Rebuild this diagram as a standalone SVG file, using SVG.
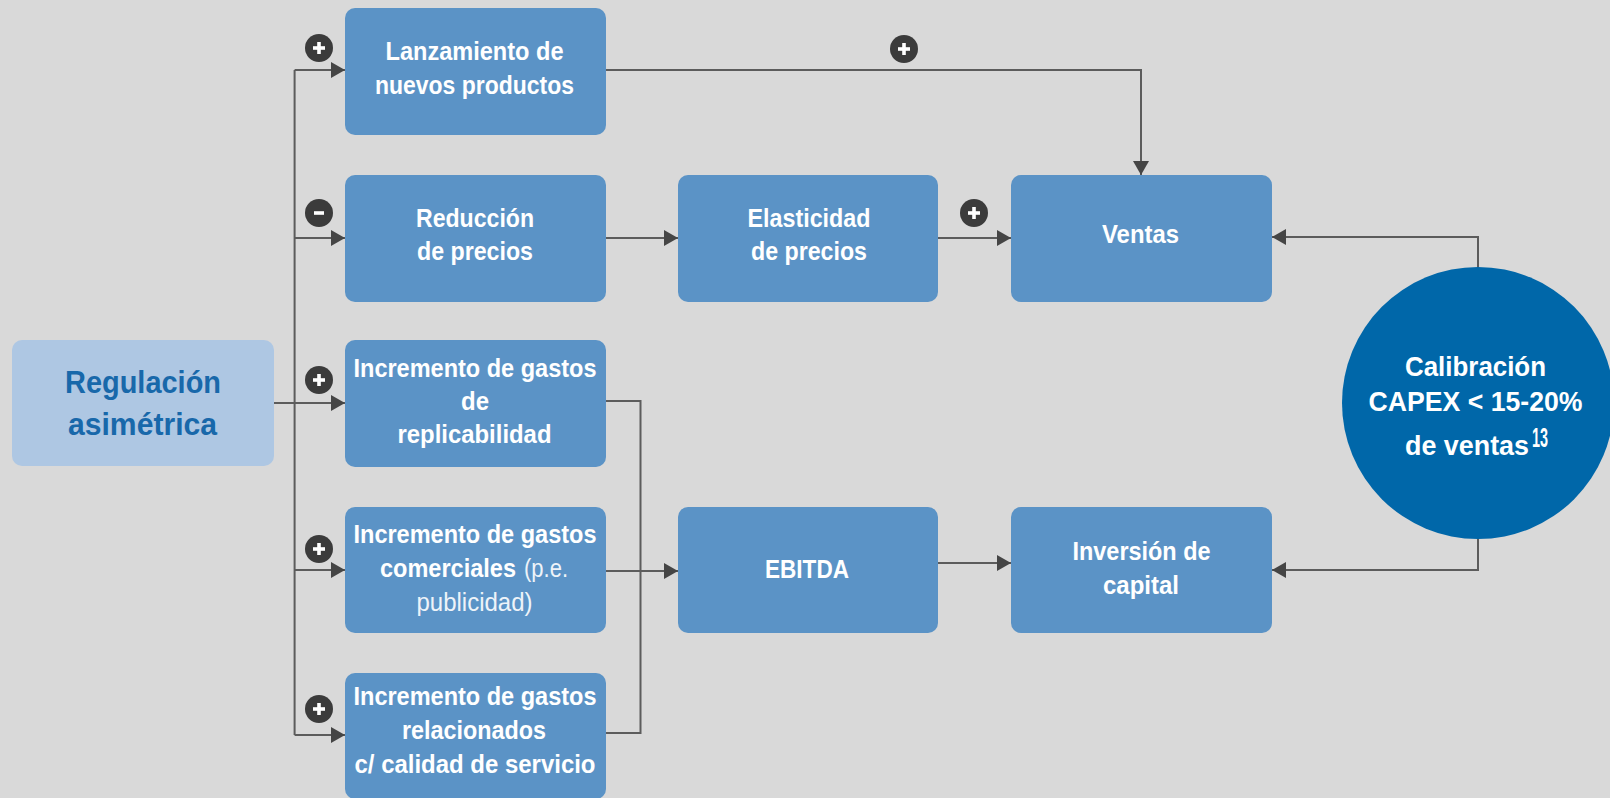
<svg xmlns="http://www.w3.org/2000/svg" xmlns:xlink="http://www.w3.org/1999/xlink" width="1610" height="798" viewBox="0 0 1610 798">
<style>
.box{fill:#5b93c6}
.t{font-family:"Liberation Sans",Arial,sans-serif;font-weight:bold;font-size:25px;fill:#ffffff;text-anchor:middle}
.r{font-weight:normal;fill:#eef3f9}
.reg{font-family:"Liberation Sans",Arial,sans-serif;font-weight:bold;font-size:32px;fill:#1868aa;text-anchor:middle}
.ct{font-family:"Liberation Sans",Arial,sans-serif;font-weight:bold;font-size:28px;fill:#ffffff;text-anchor:middle}
.s{text-anchor:start}
.ln{fill:none;stroke:#5c5c5c;stroke-width:2}
.arr{marker-end:url(#arr)}
</style>
<defs>
<marker id="arr" viewBox="0 0 14 16" refX="14" refY="8" markerWidth="14" markerHeight="16" markerUnits="userSpaceOnUse" orient="auto">
<path d="M0,0 L14,8 L0,16 z" fill="#454545"/>
</marker>
<g id="plus"><circle r="14" fill="#3b3b3b"/><rect x="-6" y="-1.8" width="12" height="3.6" fill="#fff"/><rect x="-1.8" y="-6" width="3.6" height="12" fill="#fff"/></g>
<g id="minus"><circle r="14" fill="#3b3b3b"/><rect x="-5" y="-1.8" width="10" height="3.6" fill="#fff"/></g>
</defs>
<rect width="1610" height="798" fill="#d9d9d9"/>

<g id="connectors">
<path class="ln" d="M294.6,70 V735"/>
<path class="ln arr" d="M294.6,70 H345"/>
<path class="ln arr" d="M294.6,238 H345"/>
<path class="ln arr" d="M273,403 H345"/>
<path class="ln arr" d="M294.6,570 H345"/>
<path class="ln arr" d="M294.6,735 H345"/>
<path class="ln arr" d="M606,70 H1141 V175"/>
<path class="ln arr" d="M606,238 H678"/>
<path class="ln arr" d="M938,238 H1011"/>
<path class="ln" d="M606,401 H640.5 V733 H606"/>
<path class="ln arr" d="M606,571 H678"/>
<path class="ln arr" d="M938,563 H1011"/>
<path class="ln arr" d="M1478,268 V237 H1272"/>
<path class="ln arr" d="M1478,539 V570 H1272"/>
<use xlink:href="#plus" x="319" y="48"/>
<use xlink:href="#minus" x="319" y="213"/>
<use xlink:href="#plus" x="319" y="380"/>
<use xlink:href="#plus" x="319" y="549"/>
<use xlink:href="#plus" x="319" y="709"/>
<use xlink:href="#plus" x="904" y="49"/>
<use xlink:href="#plus" x="974" y="213"/>
</g>

<g id="regulacion">
<rect x="12" y="340" width="262" height="126" rx="10" fill="#aec7e3"/>
<text class="reg" x="143" y="393" textLength="156" lengthAdjust="spacingAndGlyphs">Regulación</text>
<text class="reg" x="142.5" y="435" textLength="149" lengthAdjust="spacingAndGlyphs">asimétrica</text>
</g>

<g id="lanzamiento">
<rect class="box" x="345" y="8" width="261" height="127" rx="10"/>
<text class="t" x="474.5" y="60" textLength="178" lengthAdjust="spacingAndGlyphs">Lanzamiento de</text>
<text class="t" x="474.5" y="94" textLength="199" lengthAdjust="spacingAndGlyphs">nuevos productos</text>
</g>

<g id="reduccion">
<rect class="box" x="345" y="175" width="261" height="127" rx="10"/>
<text class="t" x="475" y="227" textLength="118" lengthAdjust="spacingAndGlyphs">Reducción</text>
<text class="t" x="475" y="260" textLength="116" lengthAdjust="spacingAndGlyphs">de precios</text>
</g>

<g id="replicabilidad">
<rect class="box" x="345" y="340" width="261" height="127" rx="10"/>
<text class="t" x="475" y="377" textLength="243" lengthAdjust="spacingAndGlyphs">Incremento de gastos</text>
<text class="t" x="475" y="410" textLength="28" lengthAdjust="spacingAndGlyphs">de</text>
<text class="t" x="474.5" y="443" textLength="154" lengthAdjust="spacingAndGlyphs">replicabilidad</text>
</g>

<g id="comerciales">
<rect class="box" x="345" y="507" width="261" height="126" rx="10"/>
<text class="t" x="475" y="543" textLength="243" lengthAdjust="spacingAndGlyphs">Incremento de gastos</text>
<text class="t s" x="380" y="577" textLength="136" lengthAdjust="spacingAndGlyphs">comerciales</text>
<text class="t s r" x="524" y="577" textLength="44" lengthAdjust="spacingAndGlyphs">(p.e.</text>
<text class="t r" x="474.5" y="611" textLength="116" lengthAdjust="spacingAndGlyphs">publicidad)</text>
</g>

<g id="relacionados">
<rect class="box" x="345" y="673" width="261" height="126" rx="10"/>
<text class="t" x="475" y="705" textLength="243" lengthAdjust="spacingAndGlyphs">Incremento de gastos</text>
<text class="t" x="474" y="739" textLength="144" lengthAdjust="spacingAndGlyphs">relacionados</text>
<text class="t" x="475" y="773" textLength="241" lengthAdjust="spacingAndGlyphs">c/ calidad de servicio</text>
</g>

<g id="elasticidad">
<rect class="box" x="678" y="175" width="260" height="127" rx="10"/>
<text class="t" x="809" y="227" textLength="123" lengthAdjust="spacingAndGlyphs">Elasticidad</text>
<text class="t" x="809" y="260" textLength="116" lengthAdjust="spacingAndGlyphs">de precios</text>
</g>

<g id="ventas">
<rect class="box" x="1011" y="175" width="261" height="127" rx="10"/>
<text class="t" x="1140.5" y="243" textLength="77" lengthAdjust="spacingAndGlyphs">Ventas</text>
</g>

<g id="ebitda">
<rect class="box" x="678" y="507" width="260" height="126" rx="10"/>
<text class="t" x="807" y="578" textLength="84" lengthAdjust="spacingAndGlyphs">EBITDA</text>
</g>

<g id="inversion">
<rect class="box" x="1011" y="507" width="261" height="126" rx="10"/>
<text class="t" x="1141.5" y="560" textLength="138" lengthAdjust="spacingAndGlyphs">Inversión de</text>
<text class="t" x="1141" y="594" textLength="76" lengthAdjust="spacingAndGlyphs">capital</text>
</g>

<g id="calibracion">
<circle cx="1478" cy="403" r="136" fill="#0067a9"/>
<text class="ct" x="1475.5" y="376" textLength="141" lengthAdjust="spacingAndGlyphs">Calibración</text>
<text class="ct" x="1475.5" y="411" textLength="214" lengthAdjust="spacingAndGlyphs">CAPEX &lt; 15-20%</text>
<text class="ct" x="1467" y="455" textLength="124" lengthAdjust="spacingAndGlyphs">de ventas</text>
<text class="ct s" x="1532" y="447" font-size="16" textLength="16" lengthAdjust="spacingAndGlyphs">13</text>
</g>
</svg>
